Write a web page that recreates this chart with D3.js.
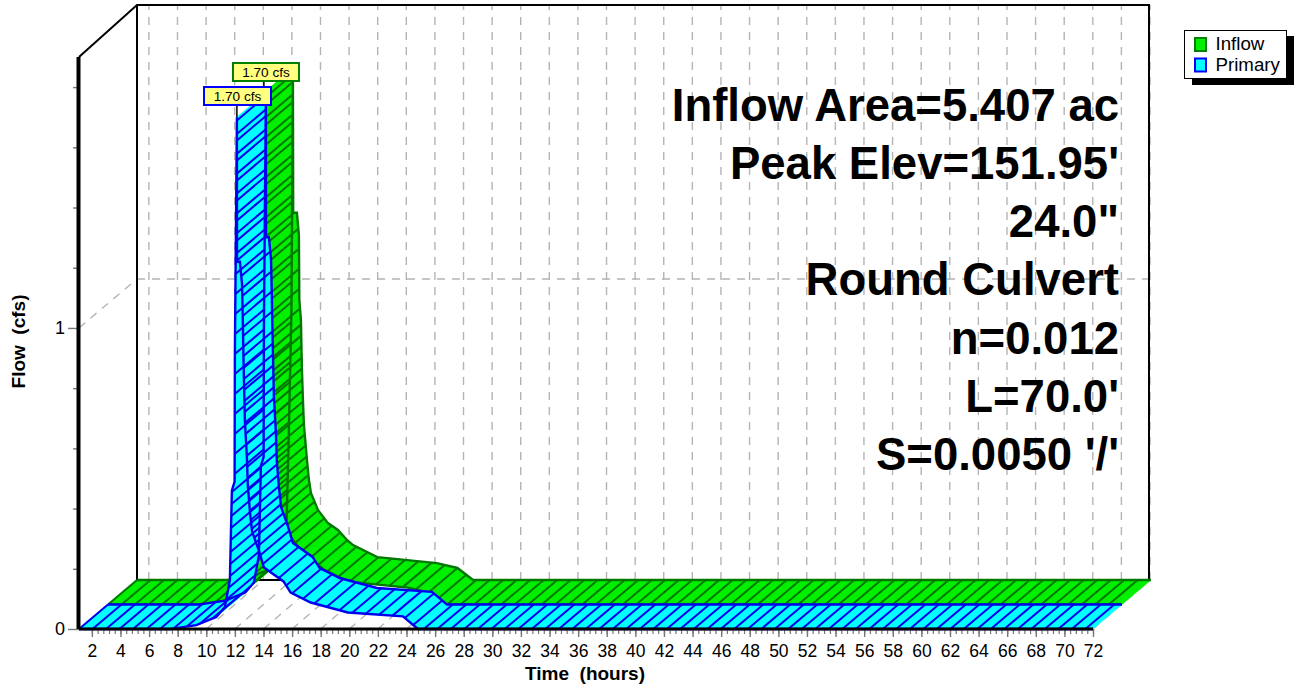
<!DOCTYPE html>
<html>
<head>
<meta charset="utf-8">
<script src="https://cdn.jsdelivr.net/npm/d3@7"></script>
<style>
	body { margin: 0; background: #fff; }
	svg { display: block; }
	text { font-family: 'Liberation Sans', Arial, sans-serif; fill: #000; }
</style>
</head>
<body>
<div id="chart"></div>
<script>
// values
var primaryTime = [1.1, 7.5, 7.9, 9.3, 10.7, 11.3, 11.65, 11.7, 11.79, 11.98, 12.0, 12.14, 12.15, 12.35, 12.5, 12.56, 12.6, 12.7, 12.84, 12.9, 13.05, 13.2, 13.7, 14.03, 15.4, 15.9, 17.3, 19.9, 23.75, 24.8, 72];
var primaryFlow = [0, 0, 0.003, 0.013, 0.04, 0.073, 0.163, 0.27, 0.46, 0.49, 0.92, 1.7, 1.22, 1.22, 1.145, 1.01, 0.9, 0.69, 0.57, 0.48, 0.39, 0.324, 0.257, 0.204, 0.158, 0.121, 0.088, 0.055, 0.042, 0, 0];
var inflowTime = [1.1, 7.4, 7.8, 9.2, 10.6, 11.2, 11.55, 11.6, 11.7, 11.9, 12.0, 12.02, 12.28, 12.42, 12.45, 12.56, 12.63, 12.7, 12.77, 12.98, 13.12, 13.26, 13.75, 14.45, 15.15, 15.78, 16.2, 17.9, 22.07, 23.5, 24.6, 72];
var inflowFlow = [0, 0, 0.003, 0.013, 0.04, 0.073, 0.163, 0.27, 0.46, 0.9, 1.7, 1.22, 1.22, 1.146, 0.93, 0.864, 0.7, 0.6, 0.515, 0.4, 0.332, 0.289, 0.233, 0.189, 0.166, 0.133, 0.116, 0.076, 0.056, 0.04, 0, 0];
var timeTicks = d3.range(2, 73, 2);
var timeMinorTicks = d3.range(2, 72.01, 0.4);
var flowTicks = [0, 1];
var flowMinorTicks = [0.2, 0.4, 0.6, 0.8, 1.2, 1.4, 1.6, 1.8];
var noteLines = ['Inflow Area=5.407 ac', "Peak Elev=151.95'", '24.0"', 'Round Culvert', 'n=0.012', "L=70.0'", "S=0.0050 '/'"];
var legendNames = ['Inflow', 'Primary'];
var peakLabel = '1.70 cfs';

var svg = d3.select('#chart').append('svg').attr('width', 1294).attr('height', 684);

var x = d3.scaleLinear().domain([1.1, 72]).range([79, 1093]);
var y = d3.scaleLinear().domain([0, 1.9]).range([629, 57]);
// depth 0 = front of chart, 2 = back wall
var depthX = d3.scaleLinear().domain([0, 2]).range([0, 58]);
var depthY = d3.scaleLinear().domain([0, 2]).range([0, -49]);
var px = (t, d) => x(t) + depthX(d);
var py = (v, d) => y(v) + depthY(d);

// walls
var wallLeft = px(1.1, 2);
var wallRight = px(72, 2) - 2;
var wallTop = 5;
var wallBottom = py(0, 2);

var gridG = svg.append('g').attr('fill', 'none').attr('stroke', '#b4b4b4').attr('stroke-width', 1.4).attr('stroke-dasharray', '8,7');
timeTicks.forEach(t => {
	gridG.append('line').attr('x1', px(t, 2) - 1).attr('x2', px(t, 2) - 1).attr('y1', wallBottom).attr('y2', wallTop);
});
gridG.append('line').attr('x1', wallLeft).attr('x2', wallRight).attr('y1', py(1, 2)).attr('y2', py(1, 2));
gridG.append('line').attr('x1', x(1.1)).attr('x2', wallLeft).attr('y1', y(1)).attr('y2', py(1, 2));
timeTicks.forEach(t => {
	gridG.append('line').attr('x1', px(t, 0)).attr('x2', px(t, 2) - 1).attr('y1', y(0)).attr('y2', wallBottom);
});

var wall = svg.append('g').attr('fill', 'none').attr('stroke', '#000').attr('stroke-width', 2);
wall.append('path').attr('d', d3.line()([[x(1.1), y(1.9)], [wallLeft, wallTop], [wallRight, wallTop], [wallRight, wallBottom], [wallLeft, wallBottom], [wallLeft, wallTop]]));

// vertical distance between hatch lines changes along the hydrograph
function hatchGap(a, b) {
	if (b.v > a.v) return a.v > 0.45 ? 20 : 12;
	if (a.v > 0.9) return 20;
	return a.v > 0.4 ? 11 : 9;
}

function ribbon(times, flows, depth, fill, stroke) {
	var g = svg.append('g');
	var rows = times.map((t, i) => ({ t: t, v: flows[i] }));
	var line = d3.line().x(d => px(d.t, d.d)).y(d => py(d.v, d.d));
	var front = rows.map(r => ({ t: r.t, v: r.v, d: depth }));
	var back = rows.map(r => ({ t: r.t, v: r.v, d: depth + 1 }));

	for (var i = 0; i < rows.length - 1; i++) {
		g.append('path')
			.attr('d', line([front[i], front[i + 1], back[i + 1], back[i]]) + 'Z')
			.attr('fill', fill)
			.attr('stroke', fill)
			.attr('stroke-width', 0.5);
	}

	// hatch follows the depth direction, stepped along the curve
	var hatch = g.append('g').attr('stroke', stroke).attr('stroke-width', 2);
	var left = 0;
	for (var j = 0; j < rows.length - 1; j++) {
		var a = rows[j];
		var b = rows[j + 1];
		var dt = (x(b.t) - x(a.t)) / 13.5;
		var dv = (y(a.v) - y(b.v)) / hatchGap(a, b);
		var len = Math.sqrt(dt * dt + dv * dv);
		while (left < len) {
			var f = left / len;
			var ht = a.t + (b.t - a.t) * f;
			var hv = a.v + (b.v - a.v) * f;
			hatch.append('line')
				.attr('x1', px(ht, depth))
				.attr('y1', py(hv, depth))
				.attr('x2', px(ht, depth + 1))
				.attr('y2', py(hv, depth + 1));
			left += 1;
		}
		left -= len;
	}

	g.append('path').attr('d', line(front)).attr('fill', 'none').attr('stroke', stroke).attr('stroke-width', 2.4);
	g.append('path').attr('d', line(back)).attr('fill', 'none').attr('stroke', stroke).attr('stroke-width', 2.4);
}

ribbon(inflowTime, inflowFlow, 1, '#00f000', '#007800');
ribbon(primaryTime, primaryFlow, 0, '#00ffff', '#0000f0');

// axes
var xAxis = svg.append('g').attr('transform', 'translate(0,' + y(0) + ')')
	.call(d3.axisBottom(x).tickValues(timeTicks).tickFormat(d3.format('d')).tickSize(8).tickPadding(7.6));
xAxis.select('.domain').remove();
xAxis.selectAll('line').attr('stroke', '#777').attr('stroke-width', 1.4);
xAxis.selectAll('text').attr('font-size', 17.5);
svg.append('g').attr('transform', 'translate(0,' + y(0) + ')')
	.call(d3.axisBottom(x).tickValues(timeMinorTicks).tickFormat('').tickSize(5))
	.call(g => g.select('.domain').remove())
	.selectAll('line').attr('stroke', '#777').attr('stroke-width', 1.2);

var yAxis = svg.append('g').attr('transform', 'translate(' + x(1.1) + ',0)')
	.call(d3.axisLeft(y).tickValues(flowTicks).tickFormat(d3.format('d')).tickSize(11).tickPadding(3));
yAxis.select('.domain').remove();
yAxis.selectAll('line').attr('stroke', '#777').attr('stroke-width', 1.4);
yAxis.selectAll('text').attr('font-size', 18);
svg.append('g').attr('transform', 'translate(' + x(1.1) + ',0)')
	.call(d3.axisLeft(y).tickValues(flowMinorTicks).tickFormat('').tickSize(6))
	.call(g => g.select('.domain').remove())
	.selectAll('line').attr('stroke', '#777').attr('stroke-width', 1.4);

svg.append('line').attr('x1', x(1.1) - 0.5).attr('x2', x(1.1) - 0.5).attr('y1', y(1.9)).attr('y2', y(0)).attr('stroke', '#000').attr('stroke-width', 4);
svg.append('line').attr('x1', x(1.1)).attr('x2', x(72)).attr('y1', y(0)).attr('y2', y(0)).attr('stroke', '#000').attr('stroke-width', 3);

svg.append('text').attr('x', 585).attr('y', 680).attr('text-anchor', 'middle').attr('font-size', 19).attr('font-weight', 'bold').style('white-space', 'pre').text('Time  (hours)');
svg.append('text').attr('transform', 'translate(25,341.5) rotate(-90)').attr('text-anchor', 'middle').attr('font-size', 19).attr('font-weight', 'bold').style('white-space', 'pre').text('Flow  (cfs)');

// note on the wall
svg.append('g').selectAll('text').data(noteLines).enter().append('text')
	.attr('x', 1119)
	.attr('y', (d, i) => 120.5 + i * 58.3)
	.attr('text-anchor', 'end')
	.attr('font-size', 45.5)
	.attr('font-weight', 'bold')
	.text(d => d);

// peak labels
function peakTag(time, flow, depth, left, top, width, stroke) {
	var g = svg.append('g');
	g.append('line')
		.attr('x1', px(time, depth)).attr('x2', px(time, depth))
		.attr('y1', top + 18).attr('y2', py(flow, depth))
		.attr('stroke', '#000').attr('stroke-width', 1.5);
	g.append('rect').attr('x', left).attr('y', top).attr('width', width).attr('height', 18)
		.attr('fill', '#ffff80').attr('stroke', stroke).attr('stroke-width', 2);
	g.append('text').attr('x', left + width / 2).attr('y', top + 14).attr('text-anchor', 'middle').attr('font-size', 13.6).text(peakLabel);
}
peakTag(12.0, 1.7, 1, 233, 63, 66, '#008000');
peakTag(12.14, 1.7, 0, 204, 87, 67, '#0000ff');

// legend
var legend = svg.append('g');
legend.append('rect').attr('x', 1192).attr('y', 36).attr('width', 102).attr('height', 49).attr('fill', '#000');
legend.append('rect').attr('x', 1184.5).attr('y', 30.5).attr('width', 102).attr('height', 48).attr('fill', '#fff').attr('stroke', '#000');
var legendFill = ['#00f000', '#00ffff'];
var legendStroke = ['#008000', '#0000ff'];
legendNames.forEach((name, i) => {
	legend.append('rect').attr('x', 1195).attr('y', 38 + i * 20.5).attr('width', 11).attr('height', 13)
		.attr('fill', legendFill[i]).attr('stroke', legendStroke[i]).attr('stroke-width', 2);
	legend.append('text').attr('x', 1215.5).attr('y', 50 + i * 21).attr('font-size', 18.7).text(name);
});
</script>
</body>
</html>
